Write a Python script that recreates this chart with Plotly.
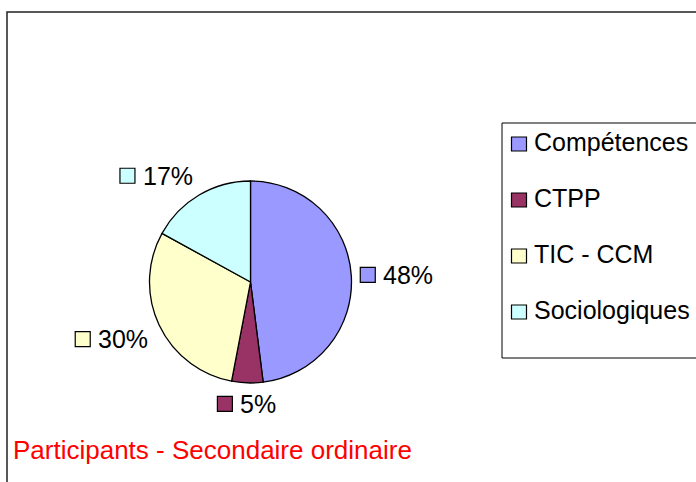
import math
import plotly.graph_objects as go

# ---- data ----
categories = ["Compétences", "CTPP", "TIC - CCM", "Sociologiques"]
values = [48, 5, 30, 17]
colors = ["#9999FF", "#993366", "#FFFFCC", "#CCFFFF"]
title_text = "Participants - Secondaire ordinaire"

W, H = 696, 482
FONT = "Arial, 'Liberation Sans', sans-serif"
FS = 25

def X(px):
    return px / W

def Y(py):
    return 1 - py / H

# pie geometry (pixels)
cx, cy, r = 250.5, 282, 101

fig = go.Figure(go.Pie(
    labels=categories,
    values=values,
    marker=dict(colors=colors, line=dict(color="black", width=1.3)),
    sort=False,
    direction="clockwise",
    rotation=0,
    textinfo="none",
    hoverinfo="label+percent",
    showlegend=False,
    domain=dict(x=[X(cx - r), X(cx + r)], y=[Y(cy + r), Y(cy - r)]),
))

shapes = []
annotations = []

# outer chart border
shapes.append(dict(type="rect", xref="paper", yref="paper",
                   x0=X(7), x1=X(W + 10), y0=Y(12), y1=Y(H + 10),
                   line=dict(color="#222", width=1.5), fillcolor="rgba(0,0,0,0)"))

# data labels with legend-key squares
total = sum(values)
cum = 0
sq = 15
gap = 8
for cat, v, col in zip(categories, values, colors):
    mid = (cum + v / 2) / total * 2 * math.pi
    cum += v
    dx, dy_up = math.sin(mid), math.cos(mid)
    d = r + 12
    px, py = cx + d * dx, cy - d * dy_up
    pct = f"{round(100 * v / total)}%"
    tw = FS * (0.556 * (len(pct) - 1) + 0.889)
    gw = sq + gap + tw
    gh = 18
    if dx > 0.3:
        gl = px - 3
    elif dx < -0.3:
        gl = px - gw
    else:
        gl = px - gw / 2
    if dy_up > 0.3:
        gc = py - gh / 2
    elif dy_up < -0.3:
        gc = py + gh / 2
    else:
        gc = py
    shapes.append(dict(type="rect", xref="paper", yref="paper",
                       x0=X(gl), x1=X(gl + sq), y0=Y(gc + sq / 2), y1=Y(gc - sq / 2),
                       line=dict(color="black", width=1.2), fillcolor=col))
    annotations.append(dict(x=X(gl + sq + gap - 2), y=Y(gc), xref="paper", yref="paper",
                            text=pct, showarrow=False, xanchor="left", yanchor="middle",
                            font=dict(family=FONT, size=FS, color="black")))

# legend box
shapes.append(dict(type="rect", xref="paper", yref="paper",
                   x0=X(502), x1=X(W + 10), y0=Y(358), y1=Y(123),
                   line=dict(color="black", width=1), fillcolor="white", layer="below"))
ly0, lstep = 144, 56
for i, (cat, col) in enumerate(zip(categories, colors)):
    yc = ly0 + i * lstep
    shapes.append(dict(type="rect", xref="paper", yref="paper",
                       x0=X(511.5), x1=X(526.5), y0=Y(yc + 7), y1=Y(yc - 7),
                       line=dict(color="black", width=1.2), fillcolor=col))
    annotations.append(dict(x=X(532), y=Y(yc - 2), xref="paper", yref="paper",
                            text=cat, showarrow=False, xanchor="left", yanchor="middle",
                            font=dict(family=FONT, size=FS, color="black")))

# title (bottom-left, red)
annotations.append(dict(x=X(11), y=Y(450), xref="paper", yref="paper",
                        text=title_text, showarrow=False, xanchor="left", yanchor="middle",
                        font=dict(family=FONT, size=26, color="red")))

fig.update_layout(
    width=W, height=H,
    margin=dict(l=0, r=0, t=0, b=0),
    paper_bgcolor="white",
    plot_bgcolor="white",
    shapes=shapes,
    annotations=annotations,
)

fig.write_html("out.html", config={"displayModeBar": False},
               post_script="document.body.style.margin='0';document.body.style.overflow='hidden';")
